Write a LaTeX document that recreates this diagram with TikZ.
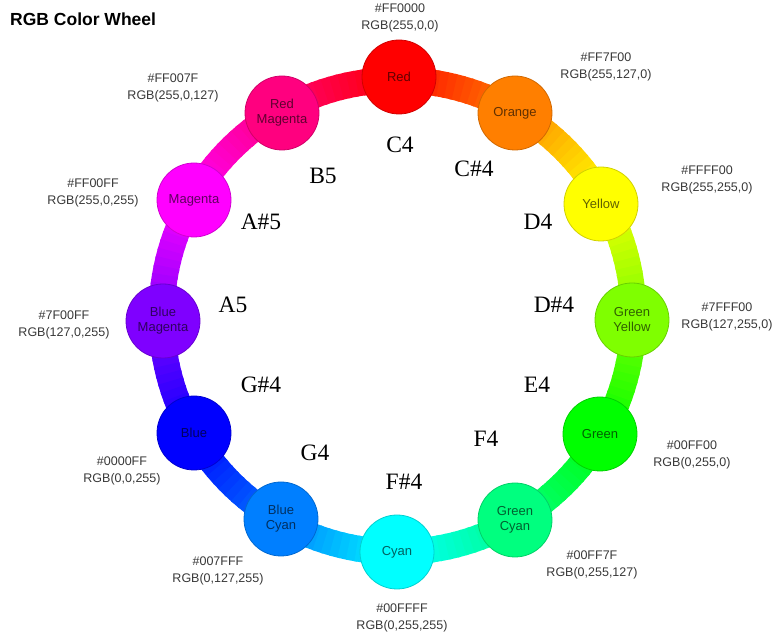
\documentclass[tikz,border=0pt]{standalone}
\usepackage{fontspec}
\setmainfont{Liberation Serif}
\setsansfont{Liberation Sans}
\usetikzlibrary{calc}

% wheel colours
\definecolor{cR}{HTML}{FF0000}
\definecolor{cO}{HTML}{FF7F00}
\definecolor{cY}{HTML}{FFFF00}
\definecolor{cGY}{HTML}{7FFF00}
\definecolor{cG}{HTML}{00FF00}
\definecolor{cGC}{HTML}{00FF7F}
\definecolor{cC}{HTML}{00FFFF}
\definecolor{cBC}{HTML}{007FFF}
\definecolor{cB}{HTML}{0000FF}
\definecolor{cBM}{HTML}{7F00FF}
\definecolor{cM}{HTML}{FF00FF}
\definecolor{cRM}{HTML}{FF007F}

\begin{document}
\begin{tikzpicture}[
	x=1pt, y=1pt,
	% Style for colour swatches
	swatch/.style={
		circle,
		fill=#1,
		draw=#1!82!black,
		line width=0.8pt,
		minimum size=74pt,
		inner sep=0pt,
		align=center,
		text=#1!38!black,
		font=\sffamily\fontsize{13}{15}\selectfont
	},
	% Hex / RGB captions
	hexlabel/.style={
		align=center,
		text=black!78,
		font=\sffamily\fontsize{12.5}{16.5}\selectfont
	},
	% Note names inside the ring
	note/.style={
		font=\fontsize{23.5}{26}\selectfont,
		inner sep=0pt
	}
	]
	
	\useasboundingbox (0,0) rectangle (779,637);
	
	% --- TITLE ---
	\node[anchor=west, inner sep=0pt, font=\sffamily\bfseries\fontsize{17.5}{20}\selectfont] (title) at (10,618) {RGB Color Wheel};
	
	% --- RING ---
	\coordinate (ctr) at (397.5,321);
	% hue follows the angle, red on top, clockwise
	\foreach \a in {0,2,...,358} {
		\pgfmathtruncatemacro{\hue}{mod(450-\a,360)}
		\definecolor{ringcol}{Hsb}{\hue,1,1}
		\draw[ringcol, line width=26pt] ($(ctr)+(\a:236pt)$) arc[start angle=\a, end angle=\a+2.6, radius=236pt];
	}
	
	% --- SWATCHES ---
	\node[swatch=cR] (R) at (399,560) {Red};
	\node[swatch=cO] (O) at (515,524) {Orange};
	\node[swatch=cY] (Y) at (601,433) {Yellow};
	\node[swatch=cGY] (GY) at (632,317) {Green\\Yellow};
	\node[swatch=cG] (G) at (600,203) {Green};
	\node[swatch=cGC] (GC) at (515,117) {Green\\Cyan};
	\node[swatch=cC] (C) at (397,85) {Cyan};
	\node[swatch=cBC] (BC) at (281,118) {Blue\\Cyan};
	\node[swatch=cB] (B) at (194,204) {Blue};
	\node[swatch=cBM] (BM) at (163,316) {Blue\\Magenta};
	\node[swatch=cM] (M) at (194,437) {Magenta};
	\node[swatch=cRM] (RM) at (282,524) {Red\\Magenta};
	
	% --- HEX / RGB VALUES ---
	\node[hexlabel] (hexR) at (400,619) {\#FF0000\\RGB(255,0,0)};
	\node[hexlabel] (hexO) at (606,570) {\#FF7F00\\RGB(255,127,0)};
	\node[hexlabel] (hexY) at (707,457) {\#FFFF00\\RGB(255,255,0)};
	\node[hexlabel] (hexGY) at (727,320) {\#7FFF00\\RGB(127,255,0)};
	\node[hexlabel] (hexG) at (692,182) {\#00FF00\\RGB(0,255,0)};
	\node[hexlabel] (hexGC) at (592,72) {\#00FF7F\\RGB(0,255,127)};
	\node[hexlabel] (hexC) at (402,19) {\#00FFFF\\RGB(0,255,255)};
	\node[hexlabel] (hexBC) at (218,66) {\#007FFF\\RGB(0,127,255)};
	\node[hexlabel] (hexB) at (122,166) {\#0000FF\\RGB(0,0,255)};
	\node[hexlabel] (hexBM) at (64,312) {\#7F00FF\\RGB(127,0,255)};
	\node[hexlabel] (hexM) at (93,444) {\#FF00FF\\RGB(255,0,255)};
	\node[hexlabel] (hexRM) at (173,549) {\#FF007F\\RGB(255,0,127)};
	
	% --- NOTES ---
	\node[note] (nC) at (400,492) {C4};
	\node[note] (nCs) at (474,468) {C\#4};
	\node[note] (nD) at (538,415) {D4};
	\node[note] (nDs) at (554,332) {D\#4};
	\node[note] (nE) at (537,252) {E4};
	\node[note] (nF) at (486,198) {F4};
	\node[note] (nFs) at (404,155) {F\#4};
	\node[note] (nG) at (315,184) {G4};
	\node[note] (nGs) at (261,252) {G\#4};
	\node[note] (nA) at (233,332) {A5};
	\node[note] (nAs) at (261,415) {A\#5};
	\node[note] (nB) at (323,461) {B5};
	
\end{tikzpicture}
\end{document}
